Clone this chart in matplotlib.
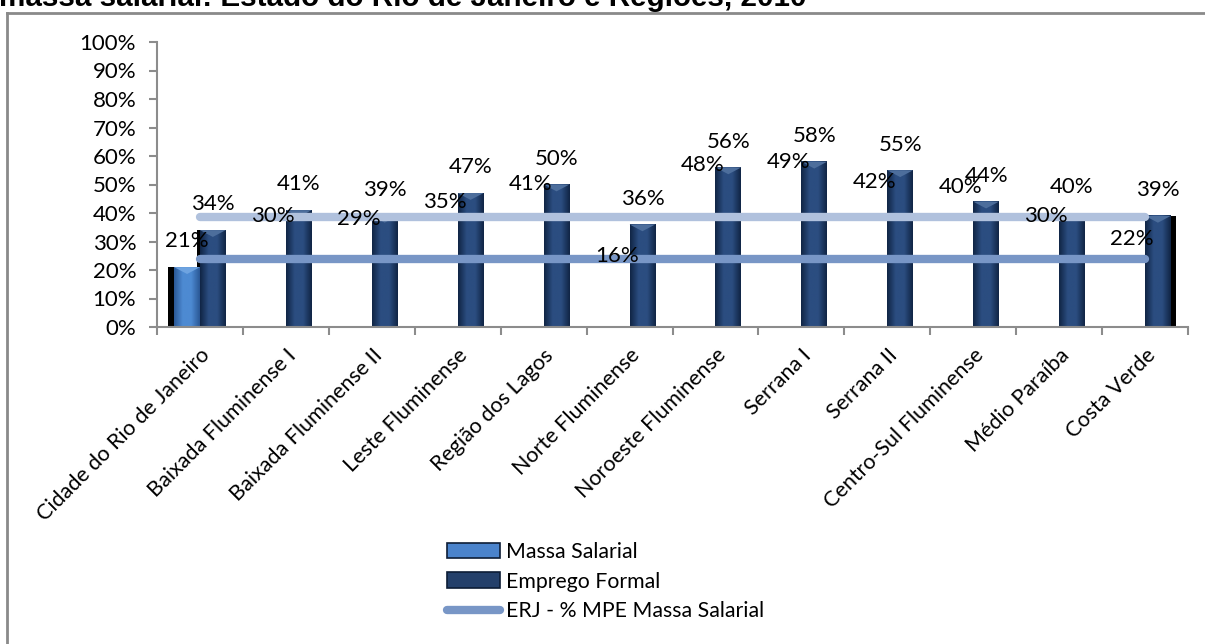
import numpy as np
import matplotlib
matplotlib.use("Agg")
import matplotlib.pyplot as plt
from matplotlib.colors import LinearSegmentedColormap
from matplotlib.patches import Rectangle, Polygon
from matplotlib.lines import Line2D
from matplotlib.patches import Patch

plt.rcParams['font.family'] = ['Lato', 'DejaVu Sans']

# ---------------- data ----------------
categories = ["Cidade do Rio de Janeiro", "Baixada Fluminense I", "Baixada Fluminense II",
              "Leste Fluminense", "Região dos Lagos", "Norte Fluminense",
              "Noroeste Fluminense", "Serrana I", "Serrana II",
              "Centro-Sul Fluminense", "Médio Paraíba", "Costa Verde"]
massa_salarial = [21, 30, 29, 35, 41, 16, 48, 49, 42, 40, 30, 22]
emprego_formal = [34, 41, 39, 47, 50, 36, 56, 58, 55, 44, 40, 39]
massa_bar_shown = [True, False, False, False, False, False, False, False, False, False, False, False]
erj_mpe_massa = [24, 24, 24, 24, 24, 24, 24, 24, 24, 24, 24, 24]
erj_mpe_emprego = [38.5, 38.5, 38.5, 38.5, 38.5, 38.5, 38.5, 38.5, 38.5, 38.5, 38.5, 38.5]
yticks = [0, 10, 20, 30, 40, 50, 60, 70, 80, 90, 100]
title = "massa salarial: Estado do Rio de Janeiro e Regiões, 2010"
legend_labels = ["Massa Salarial", "Emprego Formal", "ERJ - % MPE Massa Salarial"]

# ---------------- figure ----------------
W, H = 1205, 644
fig = plt.figure(figsize=(W / 100, H / 100), dpi=100)
ax = fig.add_axes([157 / W, 1 - 327 / H, (1188 - 157) / W, (327 - 42) / H])

n = len(categories)
x = np.arange(n)
bw = 0.30

grid_grey = "#8c8c8c"

def gradient_fill(ax, rect, c_edge, c_mid, z):
    x0, y0 = rect.get_x(), rect.get_y()
    w, h = rect.get_width(), rect.get_height()
    cmap = LinearSegmentedColormap.from_list("g", [c_edge, c_mid, c_mid, c_edge])
    grad = np.linspace(0, 1, 64).reshape(1, -1)
    ax.imshow(grad, extent=[x0, x0 + w, y0, y0 + h], aspect="auto",
              cmap=cmap, zorder=z, interpolation="bilinear")
    rect.set_facecolor("none")

def top_bevel(ax, rect, color, z):
    x0, y0 = rect.get_x(), rect.get_y()
    w, h = rect.get_width(), rect.get_height()
    top = y0 + h
    d = 2.4
    ax.add_patch(Polygon([[x0, top], [x0 + w, top], [x0 + w / 2, top - d]],
                         closed=True, facecolor=color, edgecolor="none", zorder=z + 0.1))

massa_bars = ax.bar(x - bw / 2, massa_salarial, width=bw,
                    color=["#3f78bf" if s else "none" for s in massa_bar_shown],
                    edgecolor="none", zorder=2)
emp_bars = ax.bar(x + bw / 2, emprego_formal, width=bw, color="#1d3761",
                  edgecolor="none", zorder=2)

for rect, shown in zip(massa_bars, massa_bar_shown):
    if shown:
        gradient_fill(ax, rect, "#2a5896", "#4d8ad2", 2)
        top_bevel(ax, rect, "#6ea3e0", 2)
for rect in emp_bars:
    gradient_fill(ax, rect, "#102545", "#2b4d80", 2)
    top_bevel(ax, rect, "#4d6e9c", 2)

# 3D side faces on outer bars
side = 0.07
r0 = massa_bars[0]
if massa_bar_shown[0]:
    ax.add_patch(Rectangle((r0.get_x() - side, 0), side, r0.get_height(),
                           facecolor="black", edgecolor="none", zorder=1.9))
    e0 = emp_bars[0]
    ax.add_patch(Rectangle((e0.get_x() - side / 2, r0.get_height()), side / 2,
                           e0.get_height() - r0.get_height(),
                           facecolor="black", edgecolor="none", zorder=1.9))
rl = emp_bars[-1]
ax.add_patch(Rectangle((rl.get_x() + rl.get_width(), 0), side * 0.8, rl.get_height(),
                       facecolor="black", edgecolor="none", zorder=1.9))

# horizontal reference lines
ax.plot(x, erj_mpe_emprego, color="#b0c1dd", lw=6, solid_capstyle="round", zorder=3)
ax.plot(x, erj_mpe_massa, color="#7896c6", lw=6, solid_capstyle="round", zorder=3)

# data labels
lab_fs = 16
for xi, v in zip(x, massa_salarial):
    ax.annotate(f"{v}%", (xi - bw / 2, v), xytext=(0, 18.5), textcoords="offset points",
                ha="center", va="center", fontsize=lab_fs, color="black", zorder=5)
for xi, v in zip(x, emprego_formal):
    ax.annotate(f"{v}%", (xi + bw / 2, v), xytext=(0, 18.5), textcoords="offset points",
                ha="center", va="center", fontsize=lab_fs, color="black", zorder=5)

# axes styling
ax.set_xlim(-0.5, n - 0.5)
ax.set_ylim(0, 100)
for s in ["top", "right"]:
    ax.spines[s].set_visible(False)
for s in ["left", "bottom"]:
    ax.spines[s].set_color(grid_grey)
    ax.spines[s].set_linewidth(1.5)

ax.set_yticks(yticks)
ax.set_yticklabels([f"{t}%" for t in yticks], fontsize=16)
ax.tick_params(axis="y", length=6, width=1.5, color=grid_grey, pad=9)

ax.set_xticks(x)
ax.set_xticklabels(categories, rotation=45, ha="right", rotation_mode="anchor", fontsize=15.5)
ax.tick_params(axis="x", which="major", length=0, pad=13)
ax.set_xticks(np.arange(-0.5, n, 1.0), minor=True)
ax.tick_params(axis="x", which="minor", length=6, width=1.5, color=grid_grey)

# legend
handles = [Patch(facecolor="#4a83cc", edgecolor="#0d1d36", linewidth=1.2),
           Patch(facecolor="#24406b", edgecolor="#0d1d36", linewidth=1.2),
           Line2D([0], [0], color="#7896c6", lw=6, solid_capstyle="round")]
fig.legend(handles, legend_labels, loc="upper left",
           bbox_to_anchor=(447 / W, 1 - 542 / H), frameon=False, fontsize=15.3,
           handlelength=2.5, handleheight=0.75, handletextpad=0.3,
           labelspacing=0.45, borderpad=0, borderaxespad=0)

# outer frame (only the left and top edges fall inside the picture)
fx = 7.5 / W
fy = 1 - 13 / H
fig.add_artist(Line2D([fx, 1.0], [fy, fy], transform=fig.transFigure,
                      color="#8a8a8a", lw=2, zorder=0))
fig.add_artist(Line2D([fx, fx], [0.0, fy], transform=fig.transFigure,
                      color="#8a8a8a", lw=2, zorder=0))

# title (partially cut at top)
fig.text(-1 / W, 1 - 6 / H, title, fontsize=21.3, fontweight="bold",
         family=["Liberation Sans", "DejaVu Sans"], ha="left", va="baseline")

fig.savefig("out.png", dpi=100)
